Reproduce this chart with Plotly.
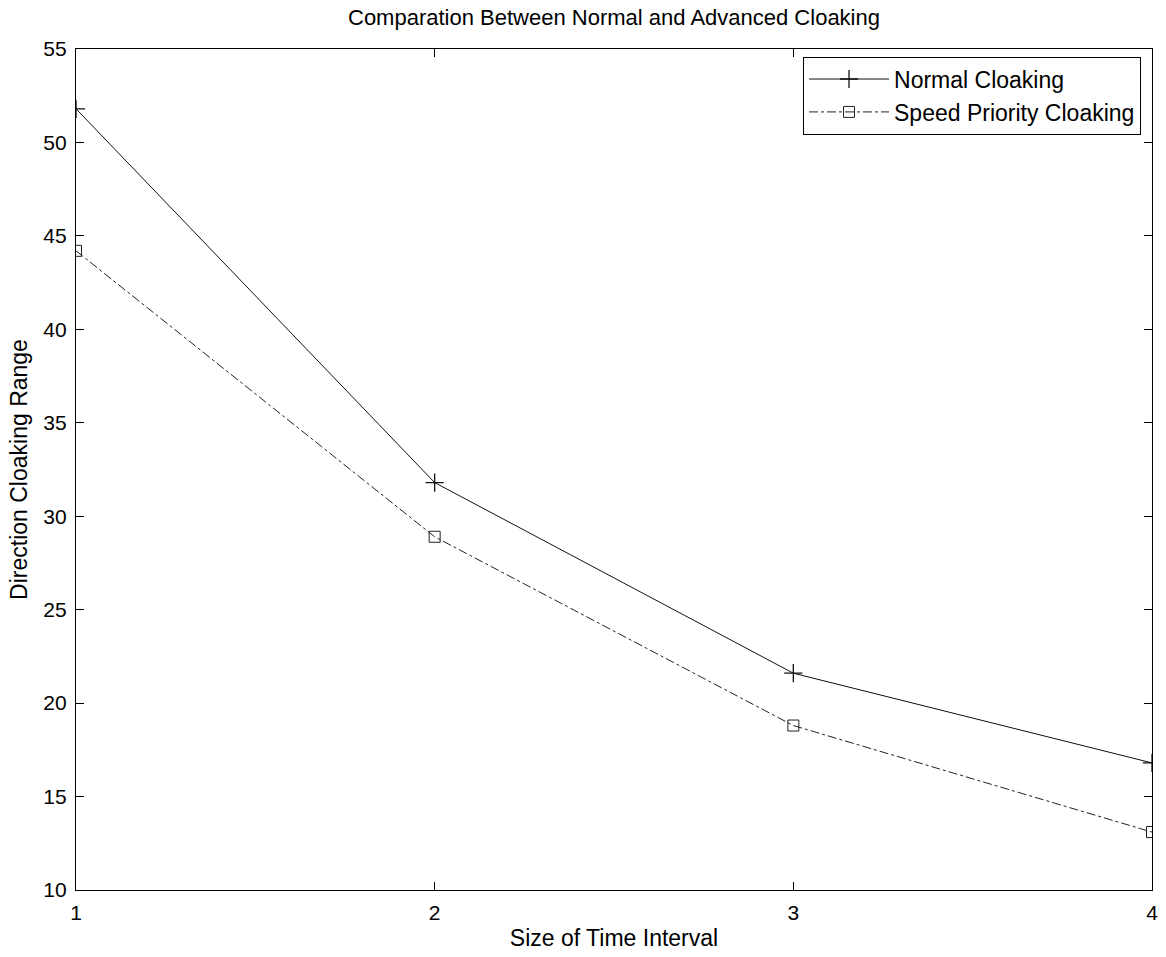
import plotly.graph_objects as go

x_vals = [1, 2, 3, 4]
normal_cloaking = [51.8, 31.8, 21.6, 16.8]
speed_priority_cloaking = [44.2, 28.9, 18.8, 13.1]
x_ticks = [1, 2, 3, 4]
y_ticks = [10, 15, 20, 25, 30, 35, 40, 45, 50, 55]

FONT = "Liberation Sans, Arial, sans-serif"

fig = go.Figure()
fig.add_trace(go.Scatter(
    x=x_vals, y=normal_cloaking, name="Normal Cloaking",
    mode="lines+markers",
    line=dict(color="#111111", width=1),
    marker=dict(symbol="cross-thin-open", size=13, line=dict(color="#111111", width=1.3)),
))
fig.add_trace(go.Scatter(
    x=x_vals, y=speed_priority_cloaking, name="Speed Priority Cloaking",
    mode="lines+markers",
    line=dict(color="#222222", width=1, dash="dashdot"),
    marker=dict(symbol="square-open", size=11, color="#222222", line=dict(color="#222222", width=1)),
))

axis_common = dict(
    showline=True, linecolor="black", linewidth=1.2, mirror="ticks",
    ticks="inside", ticklen=8, tickcolor="black", showgrid=False, zeroline=False,
    tickfont=dict(family=FONT, size=21, color="black"),
)
fig.update_xaxes(range=[1, 4], tickvals=x_ticks, ticktext=[str(v) for v in x_ticks],
                 ticklabelstandoff=4,
                 title=dict(text="Size of Time Interval", font=dict(family=FONT, size=23, color="black"), standoff=6),
                 **axis_common)
fig.update_yaxes(range=[10, 55], tickvals=y_ticks, ticktext=[str(v) for v in y_ticks],
                 ticklabelstandoff=4,
                 title=dict(text="Direction Cloaking Range", font=dict(family=FONT, size=23, color="black"), standoff=9),
                 **axis_common)

fig.update_layout(
    width=1166, height=957,
    paper_bgcolor="white", plot_bgcolor="white",
    margin=dict(l=76, r=14, t=49, b=67, autoexpand=False),
    title=dict(text="Comparation Between Normal and Advanced Cloaking",
               font=dict(family=FONT, size=22, color="black"),
               x=0.5, xref="paper", y=0.982, yanchor="middle"),
    legend=dict(x=0.9898, y=0.991, xanchor="right", yanchor="top",
                bordercolor="black", borderwidth=1, bgcolor="white",
                font=dict(family=FONT, size=23, color="black"),
                itemwidth=80, tracegroupgap=2),
    showlegend=True,
)

fig.write_html("out.html", config={"displayModeBar": False})

# remove the default page margin so the figure fills the window exactly
with open("out.html", "r", encoding="utf-8") as f:
    html = f.read()
html = html.replace("<head>", "<head><style>html,body{margin:0;padding:0;overflow:hidden;}</style>", 1)
with open("out.html", "w", encoding="utf-8") as f:
    f.write(html)
